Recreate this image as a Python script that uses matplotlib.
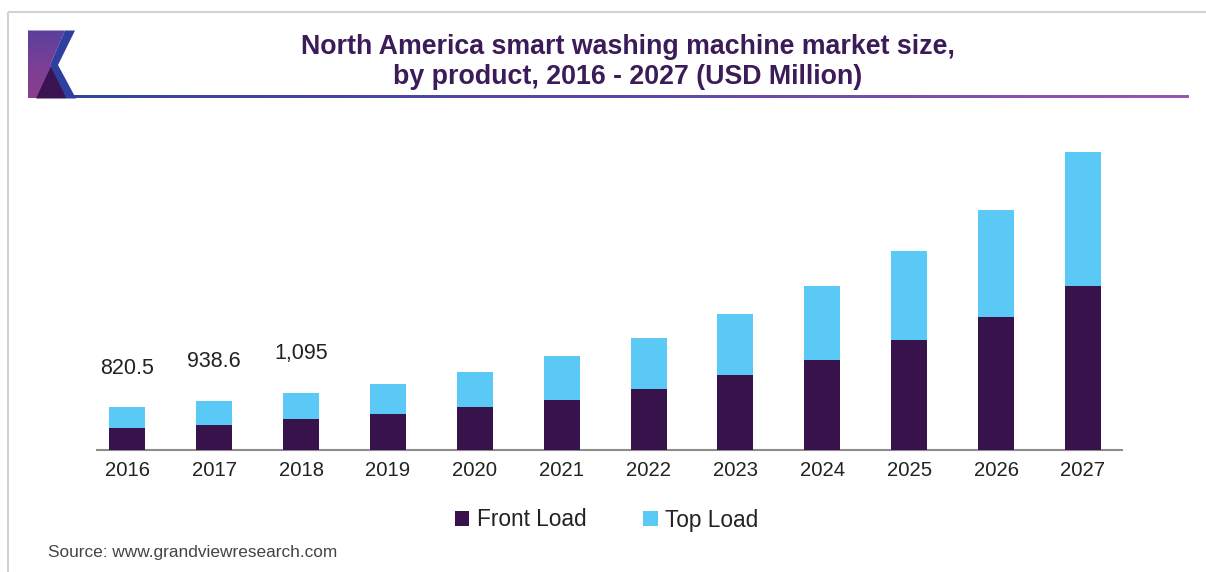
import numpy as np
import matplotlib
matplotlib.use("Agg")
import matplotlib.pyplot as plt
from matplotlib.patches import Polygon, Rectangle
from matplotlib.colors import LinearSegmentedColormap

plt.rcParams['font.family'] = ['Liberation Sans', 'DejaVu Sans']

# ---- data ----
years = ['2016', '2017', '2018', '2019', '2020', '2021', '2022', '2023', '2024', '2025', '2026', '2027']
front_load = [415, 482, 590, 691, 826, 955, 1162, 1432, 1737, 2108, 2557, 3165]
totals = [820.5, 938.6, 1095, 1258, 1502, 1805, 2146, 2615, 3165, 3831, 4617, 5744]
top_load = [t - f for t, f in zip(totals, front_load)]
label_years = ['2016', '2017', '2018']
label_texts = ['820.5', '938.6', '1,095']
series_names = ['Front Load', 'Top Load']

FRONT_C = '#38124a'
TOP_C = '#5bc9f5'
TITLE_C = '#3b1c58'

W, H = 1206, 572
fig = plt.figure(figsize=(W / 100, H / 100), dpi=100)
fig.patch.set_facecolor('white')

# overlay axes in pixel coordinates for decorations
ov = fig.add_axes([0, 0, 1, 1], zorder=0)
ov.set_xlim(0, W)
ov.set_ylim(H, 0)
ov.axis('off')

# frame
ov.add_patch(Rectangle((8, 12), 1300, 700, fill=False, edgecolor='#d2d2d2', lw=1.5))

# gradient rule under title
grad_cmap = LinearSegmentedColormap.from_list('g', ['#34449c', '#5a4aa6', '#9a55b0'])
ov.imshow(np.linspace(0, 1, 256).reshape(1, -1), cmap=grad_cmap, aspect='auto',
          extent=(66, 1189, 98.5, 95.5), zorder=2)

# logo
purple_cmap = LinearSegmentedColormap.from_list('p', ['#5a3f9c', '#7a3f96', '#8c3e8e'])
im = ov.imshow(np.linspace(0, 1, 256).reshape(-1, 1), cmap=purple_cmap, aspect='auto',
               extent=(28, 72, 98.5, 30.5), zorder=3)
clip = Polygon([(28, 30.5), (65, 30.5), (50, 65), (66.5, 98.5), (28, 98.5)],
               closed=True, transform=ov.transData, facecolor='none', edgecolor='none')
ov.add_patch(clip)
im.set_clip_path(clip)
ov.add_patch(Polygon([(36, 98.5), (52.5, 63), (66.5, 98.5)], closed=True,
                     facecolor='#3a1450', edgecolor='none', zorder=4))
ov.add_patch(Polygon([(65, 30.5), (75, 30.5), (58, 65), (76, 98.5), (66.5, 98.5), (50, 65)],
                     closed=True, facecolor='#2f3f9e', edgecolor='none', zorder=5))
ov.set_xlim(0, W)
ov.set_ylim(H, 0)

# title
fig.text(628 / W, 1 - 47 / H, 'North America smart washing machine market size,',
         ha='center', va='center', fontsize=19.3, fontweight='bold', color=TITLE_C)
fig.text(628 / W, 1 - 77 / H, 'by product, 2016 - 2027 (USD Million)',
         ha='center', va='center', fontsize=19.3, fontweight='bold', color=TITLE_C)

# main axes
ymax = 6000
px_per_unit = 1 / 19.3
ax_bottom_px = 449.5
ax_top_px = ax_bottom_px - ymax * px_per_unit
ax = fig.add_axes([97 / W, 1 - ax_bottom_px / H, (1122 - 97) / W, (ax_bottom_px - ax_top_px) / H], zorder=5)
ax.patch.set_alpha(0)

x = np.arange(len(years))
bw = 0.414
b1 = ax.bar(x, front_load, width=bw, color=FRONT_C, label=series_names[0], zorder=3)
b2 = ax.bar(x, top_load, width=bw, bottom=front_load, color=TOP_C, label=series_names[1], zorder=3)

for yr, txt in zip(label_years, label_texts):
    i = years.index(yr)
    ax.annotate(txt, (x[i], totals[i]), xytext=(0, 28), textcoords='offset points',
                ha='center', va='center', fontsize=15.5, color='#222222')

ax.set_xlim(-0.35, 11.45)
ax.set_ylim(0, ymax)
ax.set_xticks(x)
ax.set_xticklabels(years, fontsize=14.6, color='#222222')
ax.tick_params(axis='x', length=0, pad=8)
ax.set_yticks([])
for s in ['top', 'right', 'left']:
    ax.spines[s].set_visible(False)
ax.spines['bottom'].set_color('#8c8c8c')
ax.spines['bottom'].set_linewidth(1.5)

fig.legend(handles=[b1, b2], labels=series_names, loc='center',
           bbox_to_anchor=(607 / W, 1 - 520 / H), ncol=2, frameon=False,
           fontsize=16.3, handlelength=0.62, handleheight=0.62, handletextpad=0.35,
           columnspacing=2.5, labelcolor='#222222')

fig.text(48 / W, 1 - 552 / H, 'Source: www.grandviewresearch.com', ha='left', va='center',
         fontsize=12.4, color='#444444')

fig.savefig('out.png', dpi=100, facecolor='white')
